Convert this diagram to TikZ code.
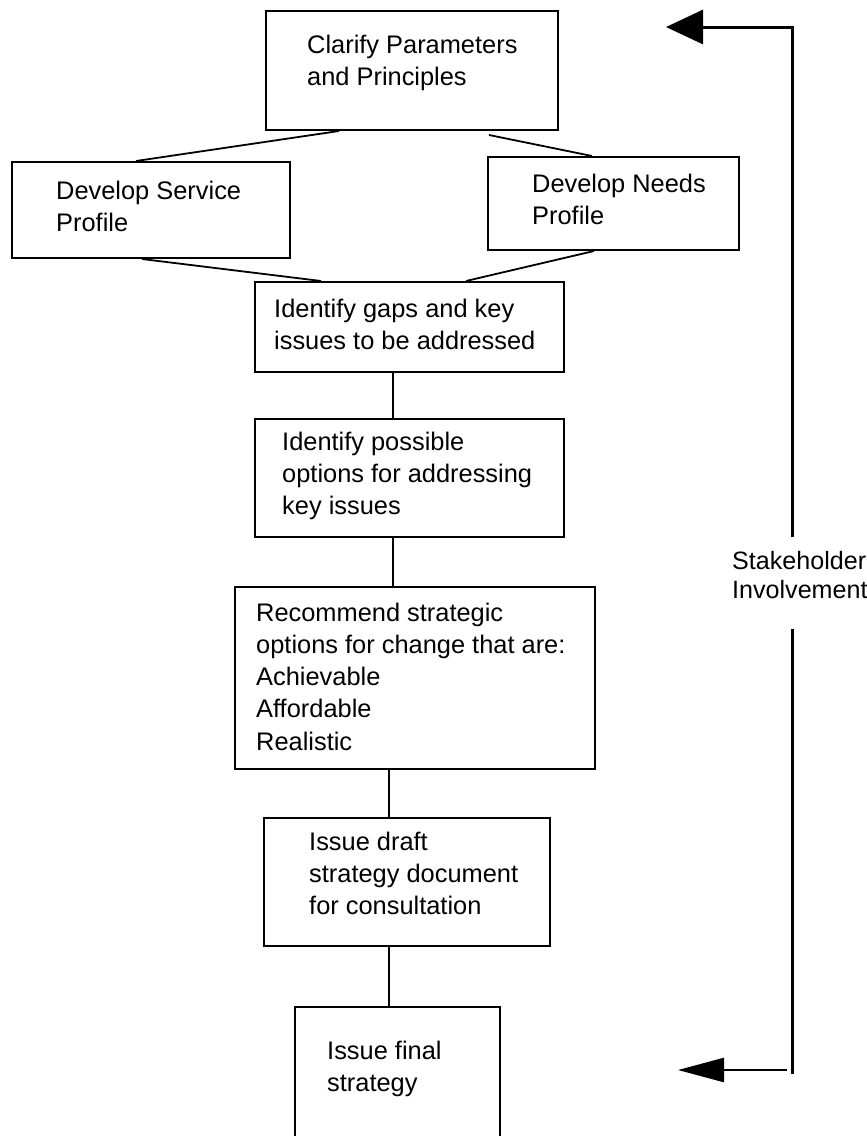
\documentclass[tikz,border=0pt]{standalone}
\usepackage{fontspec}
\setmainfont{Liberation Sans}
\usetikzlibrary{arrows.meta}
\newcommand\mylines[1]{\begin{tabular}[t]{@{}l@{}}#1\end{tabular}}
\tikzset{
  box/.style={draw, line width=2pt, inner sep=0pt, anchor=north west, fill=none},
  txt/.style={inner sep=0pt, anchor=base west, font=\fontsize{25.4}{32.3}\selectfont},
  conn/.style={line width=1.8pt},
  side/.style={line width=3pt},
}
\begin{document}
\begin{tikzpicture}[x=1pt,y=-1pt]
\useasboundingbox (0,0) rectangle (867,1136);
% boxes
\node[box, minimum width=292pt, minimum height=119pt] (b1) at (265,10) {};
\node[box, minimum width=278pt, minimum height=96pt] (sv) at (11,161) {};
\node[box, minimum width=251pt, minimum height=93pt] (nd) at (487,156) {};
\node[box, minimum width=309pt, minimum height=90pt] (gp) at (254,281) {};
\node[box, minimum width=309pt, minimum height=118pt] (op) at (254,418) {};
\node[box, minimum width=360pt, minimum height=182pt] (rc) at (234,586) {};
\node[box, minimum width=286pt, minimum height=128pt] (dr) at (263,817) {};
\node[box, minimum width=205pt, minimum height=145pt] (fn) at (294,1006) {};
% texts
\node[txt] (t1) at (307,53) {\mylines{Clarify Parameters\\and Principles}};
\node[txt] (t2) at (56,199) {\mylines{Develop Service\\Profile}};
\node[txt] (t3) at (532,192) {\mylines{Develop Needs\\Profile}};
\node[txt] (t4) at (274,317) {\mylines{Identify gaps and key\\issues to be addressed}};
\node[txt] (t5) at (282,450) {\mylines{Identify possible\\options for addressing\\key issues}};
\node[txt] (t6) at (256,621) {\mylines{Recommend strategic\\options for change that are:\\Achievable\\Affordable\\Realistic}};
\node[txt] (t7) at (309,850) {\mylines{Issue draft\\strategy document\\for consultation}};
\node[txt] (t8) at (327,1059) {\mylines{Issue final\\strategy}};
\node[txt, font=\fontsize{25.1}{29}\selectfont] (sh) at (732,569) {\mylines{Stakeholder\\Involvement}};
% connectors
\draw[conn] ([xshift=74pt]b1.south west) -- ([xshift=125pt]sv.north west);
\draw[conn] ([xshift=224pt,yshift=-4pt]b1.south west) -- ([xshift=105pt]nd.north west);
\draw[conn] ([xshift=131pt]sv.south west) -- ([xshift=67pt]gp.north west);
\draw[conn] ([xshift=107pt]nd.south west) -- ([xshift=212pt]gp.north west);
\draw[conn] ([xshift=139pt]gp.south west) -- ([xshift=139pt]op.north west);
\draw[conn] ([xshift=139pt]op.south west) -- ([xshift=159pt]rc.north west);
\draw[conn] ([xshift=155pt]rc.south west) -- ([xshift=126pt]dr.north west);
\draw[conn] ([xshift=126pt]dr.south west) -- ([xshift=95pt]fn.north west);
% stakeholder loop
\coordinate (s1) at (792,537);
\coordinate (s2) at (792,27);
\coordinate (s3) at (666,27);
\coordinate (s4) at (792,629);
\coordinate (s5) at (792,1074);
\coordinate (s6) at (787,1070);
\coordinate (s7) at (678,1070);
\draw[side, line join=miter, -{Triangle[length=37pt,width=34pt]}] (s1) -- (s2) -- (s3);
\draw[side] (s4) -- (s5);
\draw[line width=2.6pt, -{Triangle[length=46pt,width=24pt]}] (s6) -- (s7);
\end{tikzpicture}
\end{document}
